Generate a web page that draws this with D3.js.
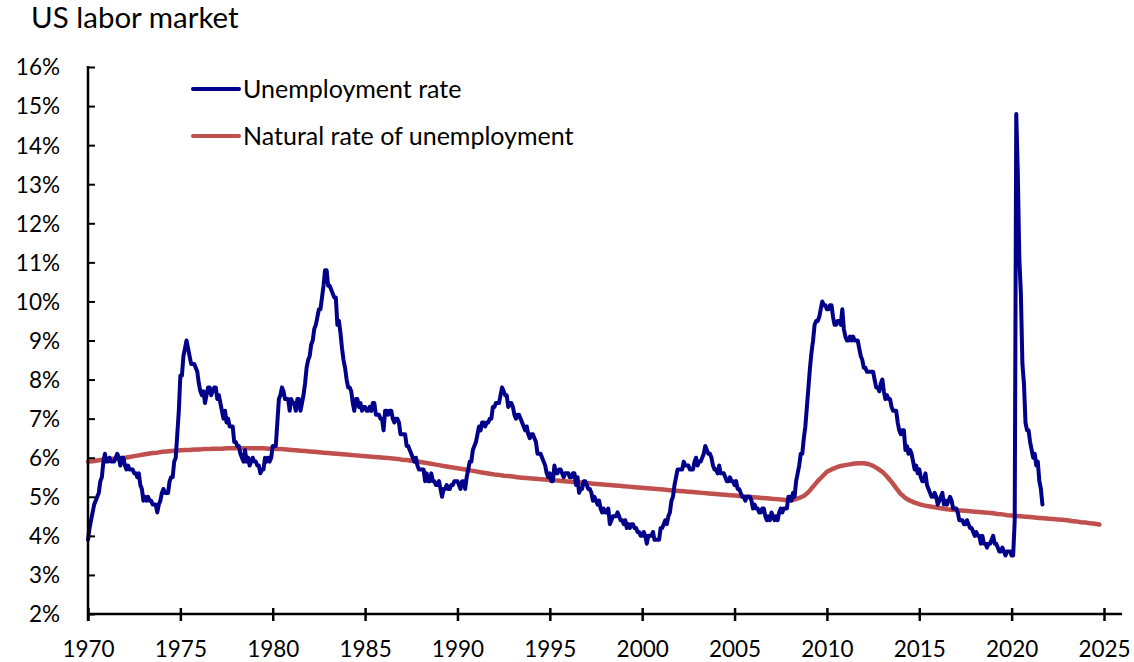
<!DOCTYPE html>
<html><head><meta charset="utf-8">
<script src="https://cdn.jsdelivr.net/npm/d3@7"></script>
<style>html,body{margin:0;padding:0;background:#fff}svg{display:block}text{font-family:Lato,"Open Sans",sans-serif;fill:#000}</style>
</head><body><svg id="c" width="1134" height="662"></svg>
<script>
const title = "US labor market";
const seriesNames = ["Unemployment rate", "Natural rate of unemployment"];
const yTicks = [2,3,4,5,6,7,8,9,10,11,12,13,14,15,16];
const xTicks = [1970,1975,1980,1985,1990,1995,2000,2005,2010,2015,2020,2025];
// Monthly unemployment rate, starting Jan 1970
const unemployment = [
3.9,4.2,4.4,4.6,4.8,4.9,5.0,5.1,5.4,5.5,5.9,6.1,
5.9,5.9,6.0,5.9,5.9,5.9,6.0,6.1,6.0,5.8,6.0,6.0,
5.8,5.7,5.8,5.7,5.7,5.7,5.6,5.6,5.5,5.6,5.3,5.2,
4.9,5.0,4.9,5.0,4.9,4.9,4.8,4.8,4.8,4.6,4.8,4.9,
5.1,5.2,5.1,5.1,5.1,5.4,5.5,5.5,5.9,6.0,6.6,7.2,
8.1,8.1,8.6,8.8,9.0,8.8,8.6,8.4,8.4,8.4,8.3,8.2,
7.9,7.7,7.6,7.7,7.4,7.6,7.8,7.8,7.6,7.7,7.8,7.8,
7.5,7.6,7.4,7.2,7.0,7.2,6.9,7.0,6.8,6.8,6.8,6.4,
6.4,6.3,6.3,6.1,6.0,5.9,6.2,5.9,6.0,5.8,5.9,6.0,
5.9,5.9,5.8,5.8,5.6,5.7,5.7,6.0,5.9,6.0,5.9,6.0,
6.3,6.3,6.3,6.9,7.5,7.6,7.8,7.7,7.5,7.5,7.5,7.2,
7.5,7.4,7.4,7.2,7.5,7.5,7.2,7.4,7.6,7.9,8.3,8.5,
8.6,8.9,9.0,9.3,9.4,9.6,9.8,9.8,10.1,10.4,10.8,10.8,
10.4,10.4,10.3,10.2,10.1,10.1,9.4,9.5,9.2,8.8,8.5,8.3,
8.0,7.8,7.8,7.7,7.4,7.2,7.5,7.5,7.3,7.4,7.2,7.3,
7.3,7.2,7.2,7.3,7.2,7.4,7.4,7.1,7.1,7.1,7.0,7.0,
6.7,7.2,7.2,7.1,7.2,7.2,7.0,6.9,7.0,7.0,6.9,6.6,
6.6,6.6,6.6,6.3,6.3,6.2,6.1,6.0,5.9,6.0,5.8,5.7,
5.7,5.7,5.7,5.4,5.6,5.4,5.4,5.6,5.4,5.4,5.3,5.3,
5.4,5.2,5.0,5.2,5.2,5.3,5.2,5.2,5.3,5.3,5.4,5.4,
5.4,5.3,5.2,5.4,5.4,5.2,5.5,5.7,5.9,5.9,6.2,6.3,
6.4,6.6,6.8,6.7,6.9,6.9,6.8,6.9,6.9,7.0,7.0,7.3,
7.3,7.4,7.4,7.4,7.6,7.8,7.7,7.6,7.6,7.3,7.4,7.4,
7.3,7.1,7.0,7.1,7.1,7.0,6.9,6.8,6.7,6.8,6.6,6.5,
6.6,6.6,6.5,6.4,6.1,6.1,6.1,6.0,5.9,5.8,5.6,5.5,
5.6,5.4,5.4,5.8,5.6,5.6,5.7,5.7,5.6,5.5,5.6,5.6,
5.6,5.5,5.5,5.6,5.6,5.3,5.5,5.1,5.2,5.2,5.4,5.4,
5.3,5.2,5.2,5.1,4.9,5.0,4.9,4.8,4.9,4.7,4.6,4.7,
4.6,4.6,4.7,4.3,4.4,4.5,4.5,4.5,4.6,4.5,4.4,4.4,
4.3,4.4,4.2,4.3,4.2,4.3,4.3,4.2,4.2,4.1,4.1,4.0,
4.0,4.1,4.0,3.8,4.0,4.0,4.0,4.1,3.9,3.9,3.9,3.9,
4.2,4.2,4.3,4.4,4.3,4.5,4.6,4.9,5.0,5.3,5.5,5.7,
5.7,5.7,5.7,5.9,5.8,5.8,5.8,5.7,5.7,5.7,5.9,6.0,
5.8,5.9,5.9,6.0,6.1,6.3,6.2,6.1,6.1,6.0,5.8,5.7,
5.7,5.6,5.8,5.6,5.6,5.6,5.5,5.4,5.4,5.5,5.4,5.4,
5.3,5.4,5.2,5.2,5.1,5.0,5.0,4.9,5.0,5.0,5.0,4.9,
4.7,4.8,4.7,4.7,4.6,4.6,4.7,4.7,4.5,4.4,4.5,4.4,
4.6,4.5,4.4,4.5,4.4,4.6,4.7,4.6,4.7,4.7,4.7,5.0,
5.0,4.9,5.1,5.0,5.4,5.6,5.8,6.1,6.1,6.5,6.8,7.3,
7.8,8.3,8.7,9.0,9.4,9.5,9.5,9.6,9.8,10.0,9.9,9.9,
9.8,9.8,9.9,9.9,9.6,9.4,9.4,9.5,9.5,9.4,9.8,9.3,
9.1,9.0,9.0,9.1,9.0,9.1,9.0,9.0,9.0,8.8,8.6,8.5,
8.3,8.3,8.2,8.2,8.2,8.2,8.2,8.0,7.8,7.8,7.7,7.9,
8.0,7.7,7.5,7.6,7.5,7.5,7.3,7.2,7.2,7.2,6.9,6.7,
6.6,6.7,6.7,6.2,6.3,6.1,6.2,6.1,5.9,5.7,5.8,5.6,
5.7,5.5,5.4,5.4,5.6,5.3,5.2,5.1,5.0,5.0,5.1,5.0,
4.8,4.9,5.0,5.1,4.8,4.9,4.8,4.9,5.0,4.9,4.7,4.7,
4.7,4.6,4.4,4.4,4.4,4.3,4.3,4.4,4.3,4.2,4.2,4.1,
4.0,4.1,4.0,4.0,3.8,4.0,3.8,3.8,3.7,3.8,3.8,3.9,
4.0,3.8,3.8,3.7,3.6,3.6,3.7,3.6,3.5,3.6,3.6,3.6,
3.5,3.5,4.4,14.8,13.3,11.1,10.2,8.4,7.9,6.9,6.7,6.7,
6.4,6.2,6.0,6.1,5.8,5.9,5.4,5.2,4.8
];
// Quarterly natural rate of unemployment, starting 1970 Q1
const naturalRate = [
5.90,5.91,5.93,5.95, 5.96,5.97,5.98,5.99, 6.00,6.02,6.04,6.06, 6.08,6.10,6.12,6.13,
6.15,6.16,6.17,6.18, 6.19,6.20,6.20,6.21, 6.21,6.22,6.22,6.23, 6.23,6.23,6.24,6.24,
6.24,6.24,6.24,6.24, 6.24,6.24,6.24,6.23, 6.23,6.22,6.22,6.21, 6.20,6.19,6.18,6.17,
6.16,6.15,6.14,6.13, 6.12,6.11,6.10,6.09, 6.08,6.07,6.06,6.05, 6.04,6.03,6.02,6.01,
6.00,5.99,5.98,5.97, 5.95,5.94,5.92,5.91, 5.89,5.87,5.85,5.83, 5.81,5.79,5.77,5.75,
5.73,5.71,5.69,5.67, 5.65,5.63,5.61,5.59, 5.57,5.56,5.54,5.53, 5.52,5.50,5.49,5.48,
5.47,5.46,5.45,5.44, 5.43,5.42,5.41,5.40, 5.39,5.38,5.37,5.36, 5.35,5.34,5.33,5.32,
5.31,5.30,5.29,5.28, 5.27,5.26,5.25,5.24, 5.23,5.22,5.21,5.20, 5.19,5.18,5.17,5.16,
5.15,5.14,5.13,5.12, 5.11,5.10,5.09,5.08, 5.07,5.06,5.05,5.04, 5.03,5.02,5.01,5.00,
4.99,4.98,4.97,4.96, 4.95,4.94,4.93,4.92, 4.91,4.93,4.97,5.02, 5.12,5.26,5.40,5.52,
5.64,5.70,5.75,5.79, 5.81,5.83,5.85,5.86, 5.86,5.84,5.79,5.72, 5.64,5.52,5.38,5.22,
5.07,4.97,4.90,4.85, 4.81,4.78,4.76,4.74, 4.72,4.70,4.68,4.67, 4.66,4.65,4.64,4.63,
4.62,4.61,4.60,4.59, 4.58,4.56,4.55,4.53, 4.52,4.51,4.50,4.49, 4.48,4.47,4.46,4.45,
4.44,4.43,4.42,4.41, 4.40,4.38,4.37,4.35, 4.34,4.32,4.31,4.29
];
const startYear = 1970;
const colors = ["#00008B", "#C0504D"];

const svg = d3.select("#c");
const mLeft = 88, mRight = 1104, mTop = 67, mBottom = 614;
const x = d3.scaleLinear().domain([1970, 2025]).range([mLeft, mRight]);
const y = d3.scaleLinear().domain([2, 16]).range([mBottom, mTop]);

svg.append("text").attr("x", 31).attr("y", 28).attr("font-size", 29.5).text(title);

// lines
const uData = unemployment.map((v, i) => [startYear + i / 12, v]);
const nData = naturalRate.map((v, i) => [startYear + i / 4, v]);
const line = d3.line().x(d => x(d[0])).y(d => y(d[1]));
svg.append("path").datum(nData).attr("d", line).attr("fill", "none")
  .attr("stroke", colors[1]).attr("stroke-width", 4.5).attr("stroke-linejoin", "round").attr("stroke-linecap", "round");
svg.append("path").datum(uData).attr("d", line).attr("fill", "none")
  .attr("stroke", colors[0]).attr("stroke-width", 4).attr("stroke-linejoin", "round").attr("stroke-linecap", "round");

// y axis
const yAxis = d3.axisRight(y).tickValues(yTicks).tickSize(7).tickFormat(d => d + "%");
const gy = svg.append("g").attr("transform", `translate(${mLeft},0)`).call(yAxis);
gy.select(".domain").remove();
gy.selectAll(".tick line").attr("stroke", "#000").attr("stroke-width", 2);
gy.selectAll(".tick text").attr("x", -28).attr("text-anchor", "end").attr("font-size", 22.5)
  .attr("font-family", "Lato, sans-serif").attr("fill", "#000").attr("dy", "0.35em");
svg.append("line").attr("x1", mLeft).attr("x2", mLeft).attr("y1", mTop - 1).attr("y2", mBottom + 7)
  .attr("stroke", "#000").attr("stroke-width", 2.5);

// x axis
const xAxis = d3.axisBottom(x).tickValues(xTicks).tickSize(6).tickFormat(d3.format("d"));
const gx = svg.append("g").attr("transform", `translate(0,${mBottom})`).call(xAxis);
gx.select(".domain").remove();
gx.selectAll(".tick line").attr("y1", -6).attr("y2", 7).attr("stroke", "#000").attr("stroke-width", 2.5);
gx.selectAll(".tick text").attr("y", 43).attr("dy", 0).attr("font-size", 22.5)
  .attr("font-family", "Lato, sans-serif").attr("fill", "#000");
svg.append("line").attr("x1", mLeft).attr("x2", 1122).attr("y1", mBottom).attr("y2", mBottom)
  .attr("stroke", "#000").attr("stroke-width", 2.5);

// legend
const legY = [89, 136];
seriesNames.forEach((name, i) => {
  svg.append("line").attr("x1", 193).attr("x2", 239).attr("y1", legY[i]).attr("y2", legY[i])
    .attr("stroke", colors[i]).attr("stroke-width", 4).attr("stroke-linecap", "round");
  svg.append("text").attr("x", 243).attr("y", legY[i]).attr("dy", "0.35em").attr("font-size", 25).text(name);
});
</script></body></html>
